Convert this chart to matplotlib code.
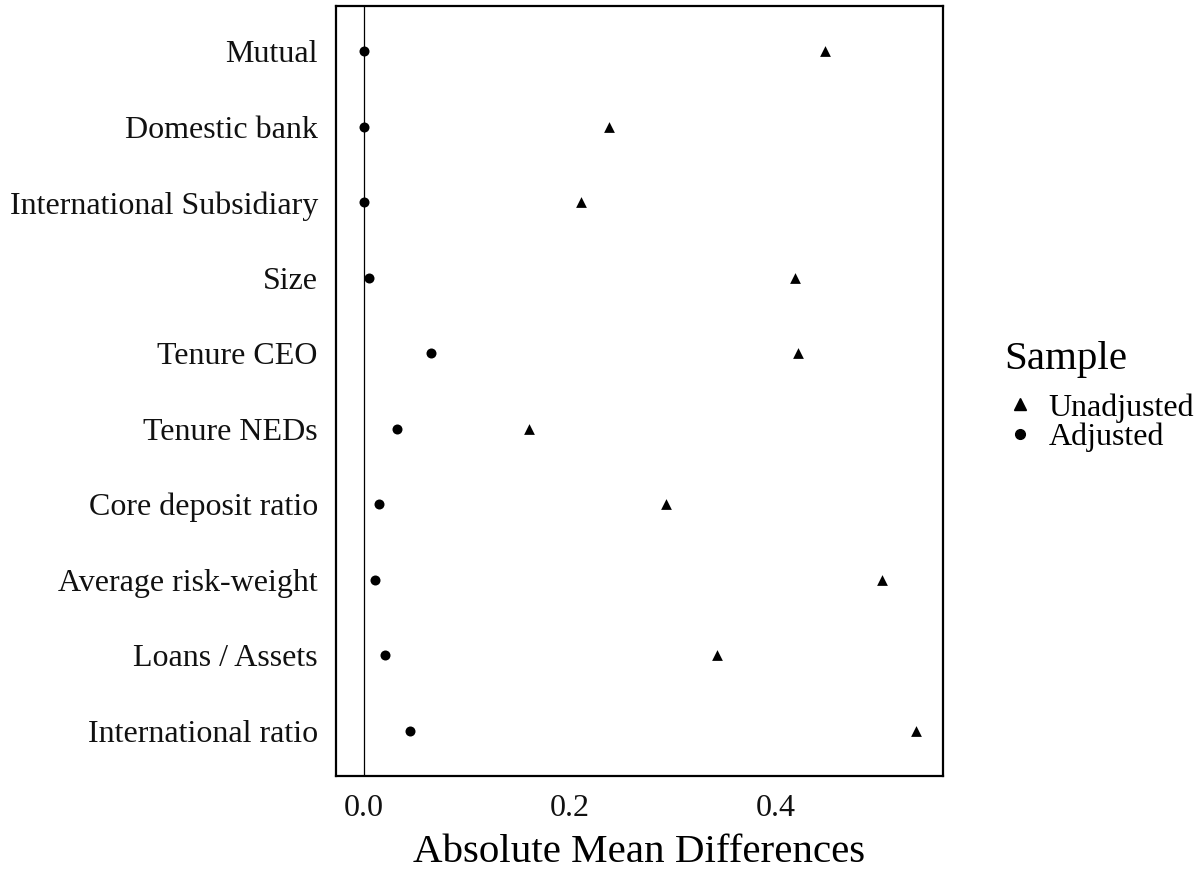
import matplotlib.pyplot as plt
from matplotlib.lines import Line2D

plt.rcParams['font.family'] = ['Liberation Serif', 'DejaVu Serif']

# covariates, top to bottom
variables = ["Mutual", "Domestic bank", "International Subsidiary", "Size",
             "Tenure CEO", "Tenure NEDs", "Core deposit ratio",
             "Average risk-weight", "Loans / Assets", "International ratio"]
unadjusted = [0.448, 0.238, 0.211, 0.419, 0.422, 0.161, 0.294, 0.503, 0.343, 0.536]
adjusted = [0.0, 0.0, 0.0, 0.005, 0.065, 0.032, 0.015, 0.011, 0.021, 0.045]

fig = plt.figure(figsize=(12.04, 8.69), dpi=100)
ax = fig.add_axes([336/1204, 1 - 776/869, (943-336)/1204, (776-6)/869])

ys = list(range(len(variables)))[::-1]
ax.axvline(0, color="black", linewidth=0.9, zorder=1)
ax.scatter(unadjusted, ys, marker="^", s=60, color="black", linewidths=0, zorder=3)
ax.scatter(adjusted, ys, marker="o", s=52, color="black", linewidths=0, zorder=3)

ax.set_yticks(ys)
ax.set_yticklabels(variables)
ax.set_ylim(-0.6, len(variables) - 1 + 0.6)
ax.set_xlim(-0.0268, 0.5627)
ax.set_xticks([0.0, 0.2, 0.4])
ax.set_xticklabels(["0.0", "0.2", "0.4"])
ax.tick_params(length=0, labelsize=23, colors="#111111")
ax.tick_params(axis="x", pad=13)
ax.tick_params(axis="y", pad=13)
for sp in ax.spines.values():
    sp.set_linewidth(1.6)
ax.set_xlabel("Absolute Mean Differences", fontsize=29.5, labelpad=8)

handles = [Line2D([], [], marker="^", linestyle="", color="black", markersize=8),
           Line2D([], [], marker="o", linestyle="", color="black", markersize=7)]
leg = fig.legend(handles, ["Unadjusted", "Adjusted"], title="Sample",
                 loc="upper left", bbox_to_anchor=(991/1204, 1 - 328/869),
                 frameon=False, fontsize=23, title_fontsize=29.5,
                 handletextpad=0.4, labelspacing=0.0, borderaxespad=0,
                 handlelength=1.0)
leg._legend_box.align = "left"
leg._legend_box.sep = 11

plt.savefig("out.png", dpi=100)
